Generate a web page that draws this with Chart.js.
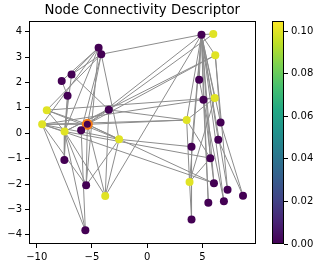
<!DOCTYPE html>
<html>
<head>
<meta charset="utf-8">
<script src="https://cdn.jsdelivr.net/npm/chart.js@4.4.0/dist/chart.umd.min.js"></script>
<style>
  html, body { margin: 0; padding: 0; background: #fff; }
  #wrap { position: relative; width: 314px; height: 264px; }
  #graph { position: absolute; left: 0; top: 0; }
  #cbar { position: absolute; left: 262px; top: 0; }
</style>
</head>
<body>
<div id="wrap">
  <canvas id="graph" width="262" height="264"></canvas>
  <canvas id="cbar" width="52" height="264"></canvas>
</div>
<script>
// node positions and descriptor values
const nodeX = [-4.40, -4.16, -6.85, -7.74, -7.21, -3.48, -9.09, -9.51, -5.42, -5.98, -7.48, -2.55, -7.50, -5.53, -3.80, -5.60,
               4.91, 5.98, 6.16, 4.70, 5.09, 6.11, 3.57, 6.64, 6.43, 4.01, 5.71, 3.83, 6.04, 7.27, 8.67, 5.53, 6.94, 4.01];
const nodeY = [3.37, 3.11, 2.31, 2.06, 1.48, 0.92, 0.91, 0.35, 0.35, 0.12, 0.07, -0.24, -1.05, -2.05, -2.47, -3.82,
               3.88, 3.91, 3.07, 2.11, 1.32, 1.39, 0.52, 0.42, -0.26, -0.53, -0.98, -1.92, -1.97, -2.22, -2.46, -2.74, -2.68, -3.40];
const nodeValue = [0, 0, 0, 0, 0, 0, 0.1, 0.1, 0, 0, 0.1, 0.1, 0, 0, 0.1, 0,
                   0, 0.1, 0.1, 0, 0, 0.1, 0.1, 0, 0, 0, 0, 0.1, 0, 0, 0, 0, 0, 0];
const highlightNode = 8;

const edges = [
  [0,1],[0,2],[1,2],[0,3],[1,6],[0,7],[0,10],[1,8],[1,9],[1,11],[0,13],[2,5],[2,10],[3,4],
  [4,10],[4,12],[6,10],[7,10],[6,8],[7,8],[7,11],[6,11],[7,13],[7,15],[10,12],[10,13],[10,14],
  [10,15],[8,13],[8,11],[8,14],[9,8],[5,8],[5,10],[11,14],[11,13],[9,15],[5,14],
  [1,16],[14,16],[8,16],[8,18],[7,21],[6,21],[7,22],[8,22],[5,22],[10,26],[8,28],[7,28],
  [10,18],[5,17],[11,25],
  [16,17],[16,18],[16,19],[16,20],[16,21],[16,22],[16,23],[16,24],[16,25],[16,26],[16,28],
  [16,29],[16,31],[16,32],[16,27],[18,23],[20,28],[20,31],[21,22],[21,27],[22,27],[22,26],
  [23,30],[24,30],[25,33],[27,33],[27,26],[19,32],[18,29]
];

const xTicks = [-10, -5, 0, 5];
const yTicks = [-4, -3, -2, -1, 0, 1, 2, 3, 4];
const cbTicks = [0, 0.02, 0.04, 0.06, 0.08, 0.10];
const cbMax = 0.1047;

const viridis = ['#440154', '#482475', '#414487', '#355f8d', '#2a788e', '#21918c',
                 '#22a884', '#44bf70', '#7ad151', '#bddf26', '#fde725'];

function hexToRgb(h) {
  return [parseInt(h.slice(1, 3), 16), parseInt(h.slice(3, 5), 16), parseInt(h.slice(5, 7), 16)];
}
function viridisAt(t) {
  t = Math.max(0, Math.min(1, t));
  const p = t * (viridis.length - 1);
  const i = Math.min(Math.floor(p), viridis.length - 2);
  const f = p - i;
  const a = hexToRgb(viridis[i]), b = hexToRgb(viridis[i + 1]);
  const c = a.map((v, k) => Math.round(v + (b[k] - v) * f));
  return `rgb(${c[0]},${c[1]},${c[2]})`;
}
const minus = v => (v < 0 ? '\u2212' + Math.abs(v) : String(v));

Chart.defaults.font.family = 'DejaVu Sans';
Chart.defaults.font.size = 10;
Chart.defaults.color = '#000';

const frame = {
  id: 'frame',
  afterDraw(chart) {
    const a = chart.chartArea, c = chart.ctx;
    c.save();
    c.strokeStyle = '#000';
    c.lineWidth = 1;
    c.strokeRect(Math.round(a.left) + 0.5, Math.round(a.top) + 0.5,
                 Math.round(a.right - a.left) - 1, Math.round(a.bottom - a.top) - 1);
    c.restore();
  }
};

const edgeSets = edges.map(([a, b]) => ({
  type: 'scatter',
  data: [{ x: nodeX[a], y: nodeY[a] }, { x: nodeX[b], y: nodeY[b] }],
  showLine: true,
  borderColor: '#8c8c8c',
  borderWidth: 1,
  pointRadius: 0,
  order: 1
}));

const nodeSet = {
  data: nodeX.map((x, i) => ({ x: x, y: nodeY[i] })),
  backgroundColor: nodeValue.map(v => viridisAt(v / cbMax)),
  borderColor: nodeX.map((_, i) => (i === highlightNode ? '#f57d15' : 'rgba(0,0,0,0)')),
  borderWidth: nodeX.map((_, i) => (i === highlightNode ? 2 : 0)),
  pointRadius: nodeX.map((_, i) => (i === highlightNode ? 4.5 : 4)),
  order: 0
};

const tickGrid = { drawOnChartArea: false, drawTicks: true, tickLength: 4, color: '#000' };

new Chart(document.getElementById('graph'), {
  type: 'scatter',
  data: { datasets: [nodeSet, ...edgeSets] },
  options: {
    responsive: false,
    animation: false,
    devicePixelRatio: 1,
    layout: { padding: { left: 0, right: 4, top: 0, bottom: 0 } },
    plugins: {
      legend: { display: false },
      tooltip: { enabled: false },
      title: {
        display: true,
        fullSize: false,
        text: 'Node Connectivity Descriptor',
        color: '#000',
        font: { size: 13.3, weight: 'normal' },
        padding: { top: 2.5, bottom: 2.5 }
      }
    },
    scales: {
      x: {
        min: -10.7, max: 9.8,
        grid: tickGrid,
        border: { display: false },
        afterBuildTicks: s => { s.ticks = xTicks.map(v => ({ value: v })); },
        afterFit: s => { s.height = 20; },
        ticks: { padding: 3, maxRotation: 0, callback: v => minus(v) }
      },
      y: {
        min: -4.36, max: 4.42,
        grid: tickGrid,
        border: { display: false },
        afterBuildTicks: s => { s.ticks = yTicks.map(v => ({ value: v })); },
        afterFit: s => { s.width = 29; },
        ticks: { padding: 3, callback: v => minus(v) }
      }
    }
  },
  plugins: [frame]
});

new Chart(document.getElementById('cbar'), {
  type: 'bar',
  data: {
    labels: ['value'],
    datasets: [{
      data: [cbMax],
      barPercentage: 1,
      categoryPercentage: 1,
      borderWidth: 0,
      backgroundColor: ctx => {
        const area = ctx.chart.chartArea;
        if (!area) return viridis[5];
        const g = ctx.chart.ctx.createLinearGradient(0, area.bottom, 0, area.top);
        viridis.forEach((c, i) => g.addColorStop(i / (viridis.length - 1), c));
        return g;
      }
    }]
  },
  options: {
    responsive: false,
    animation: false,
    devicePixelRatio: 1,
    layout: { padding: { left: 10, right: 0, top: 21, bottom: 20 } },
    plugins: { legend: { display: false }, tooltip: { enabled: false } },
    scales: {
      x: { display: false },
      y: {
        position: 'right',
        min: 0, max: cbMax,
        grid: tickGrid,
        border: { display: false },
        afterBuildTicks: s => { s.ticks = cbTicks.map(v => ({ value: v })); },
        afterFit: s => { s.width = 30; },
        ticks: { padding: 3, callback: v => v.toFixed(2) }
      }
    }
  },
  plugins: [frame]
});
</script>
</body>
</html>
